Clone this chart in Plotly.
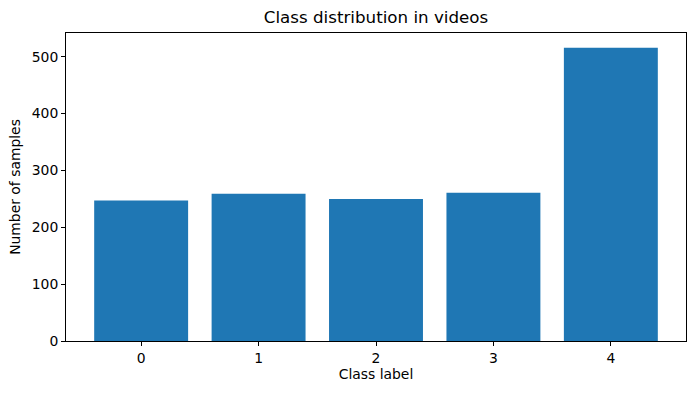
import plotly.graph_objects as go

categories = [0, 1, 2, 3, 4]
counts = [247, 259, 250, 261, 516]
tick_labels = ["0", "1", "2", "3", "4"]

fig = go.Figure(go.Bar(x=categories, y=counts, width=0.8, marker=dict(color="#1f77b4", line=dict(width=0))))

axis_common = dict(showline=True, linecolor="black", linewidth=1, mirror=True,
                   ticks="outside", ticklen=4, tickcolor="black", showgrid=False, zeroline=False,
                   tickfont=dict(family="DejaVu Sans", size=13.9, color="black"))

fig.update_layout(
    width=695, height=393,
    margin=dict(l=66, r=9, t=33, b=52),
    plot_bgcolor="white", paper_bgcolor="white",
    title=dict(text="Class distribution in videos", x=0.5, xanchor="center", xref="paper",
               y=1 - 17/393, yanchor="middle",
               font=dict(family="DejaVu Sans", size=16.7, color="black")),
    xaxis=dict(range=[-0.64, 4.64], tickvals=categories, ticktext=tick_labels,
               title=dict(text="Class label", font=dict(family="DejaVu Sans", size=13.9, color="black"), standoff=4),
               **axis_common),
    yaxis=dict(range=[0, 541.8], tickvals=[0, 100, 200, 300, 400, 500],
               title=dict(text="Number of samples", font=dict(family="DejaVu Sans", size=13.9, color="black"), standoff=7),
               **axis_common),
    showlegend=False,
)

fig.write_html("out.html")
